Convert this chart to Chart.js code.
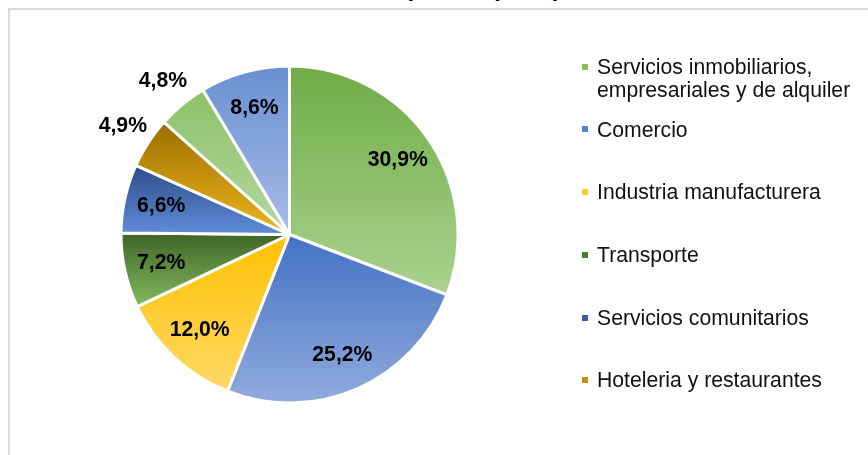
<!DOCTYPE html>
<html>
<head>
<meta charset="utf-8">
<script src="https://cdn.jsdelivr.net/npm/chart.js@4"></script>
<style>
  html, body { margin: 0; padding: 0; background: #fff; overflow: hidden; }
  body { width: 868px; height: 455px; position: relative; font-family: "Liberation Sans", Arial, sans-serif; }
  #frame { position: absolute; left: 8px; top: 8px; width: 900px; height: 500px;
           border-left: 2px solid #d9d9d9; border-top: 2px solid #d9d9d9; }
  #title { position: absolute; left: 0; top: -24.5px; width: 561px; text-align: right;
           font-weight: bold; font-size: 24px; line-height: 24px; white-space: nowrap; color: #000; }
  #chart { position: absolute; left: 0; top: 0; }
  .lg-item { position: absolute; left: 582px; width: 286px; }
  .lg-box { position: absolute; left: 0; width: 6px; height: 6px; }
  .lg-text { position: absolute; left: 15px; width: 272px; font-size: 21.2px; line-height: 23.5px; color: #111; }
</style>
</head>
<body>
<div id="frame"></div>
<div id="title">Participación (2010)</div>
<canvas id="chart" width="868" height="455"></canvas>
<div id="legend"></div>
<script>
// data
const categories = [
  'Servicios inmobiliarios, empresariales y de alquiler',
  'Comercio',
  'Industria manufacturera',
  'Transporte',
  'Servicios comunitarios',
  'Hoteleria y restaurantes',
  'Construcción',
  'Otros servicios'
];
const shares = [30.9, 25.2, 12.0, 7.2, 6.6, 4.9, 4.8, 8.6];
// only the first six entries fit in the legend
const legendCount = 6;

// gradient colours per slice (top -> bottom)
const colorTop = ['#6fac46', '#4472c4', '#ffc000', '#3f6427', '#2e4d88', '#9a6f00', '#8bc168', '#6a8fd2'];
const colorBottom = ['#abd290', '#90abdd', '#ffd966', '#82ba5e', '#5f8cd9', '#efb51c', '#b5d89f', '#a6bce5'];
const colorMid = ['#86bf62', '#5b84cf', '#ffc936', '#4f7b33', '#3d5fa3', '#c48f0c', '#9fcd82', '#87a5dc'];

const sectorGradient = (ctx) => {
  const arc = ctx.element;
  const i = ctx.dataIndex;
  if (!arc || arc.x === undefined || !arc.outerRadius) return colorMid[i];
  const { x, y, startAngle, endAngle, outerRadius: r } = arc;
  let ys = [y, y + r * Math.sin(startAngle), y + r * Math.sin(endAngle)];
  [-Math.PI / 2, Math.PI / 2, 3 * Math.PI / 2].forEach(a => {
    if (a >= startAngle && a <= endAngle) ys.push(y + r * Math.sin(a));
  });
  const y0 = Math.min(...ys), y1 = Math.max(...ys);
  const g = ctx.chart.ctx.createLinearGradient(0, y0, 0, y1);
  g.addColorStop(0, colorTop[i]);
  g.addColorStop(1, colorBottom[i]);
  return g;
};

const pctLabels = {
  id: 'pctLabels',
  afterDatasetsDraw(chart) {
    const c = chart.ctx;
    const meta = chart.getDatasetMeta(0);
    c.save();
    c.font = 'bold 21.2px "Liberation Sans", Arial, sans-serif';
    c.fillStyle = '#000';
    c.textAlign = 'center';
    c.textBaseline = 'middle';
    meta.data.forEach((arc, i) => {
      const v = shares[i];
      const mid = (arc.startAngle + arc.endAngle) / 2;
      const f = v < 5 ? 1.18 : 0.78;
      const px = arc.x + Math.cos(mid) * arc.outerRadius * f;
      const py = arc.y + Math.sin(mid) * arc.outerRadius * f;
      c.fillText(v.toFixed(1).replace('.', ',') + '%', px, py);
    });
    c.restore();
  }
};

const chart = new Chart(document.getElementById('chart'), {
  type: 'pie',
  data: {
    labels: categories,
    datasets: [{
      data: shares,
      backgroundColor: sectorGradient,
      borderColor: '#ffffff',
      borderWidth: 3
    }]
  },
  options: {
    responsive: false,
    animation: false,
    layout: { padding: { left: 119.5, right: 408.5, top: 64.5, bottom: 50.5 } },
    plugins: {
      legend: { display: false },
      tooltip: { enabled: false },
      title: { display: false }
    }
  },
  plugins: [pctLabels]
});
// second pass so the gradients can use the arc geometry
chart.update('none');

// html legend
const legend = document.getElementById('legend');
categories.slice(0, legendCount).forEach((name, i) => {
  const center = 66.7 + i * 62.7;
  const item = document.createElement('div');
  item.className = 'lg-item';
  item.style.top = (center - 11.75) + 'px';
  const box = document.createElement('div');
  box.className = 'lg-box';
  box.style.top = '8.75px';
  box.style.background = colorMid[i];
  const txt = document.createElement('div');
  txt.className = 'lg-text';
  txt.textContent = name;
  item.appendChild(box);
  item.appendChild(txt);
  legend.appendChild(item);
});
</script>
</body>
</html>
